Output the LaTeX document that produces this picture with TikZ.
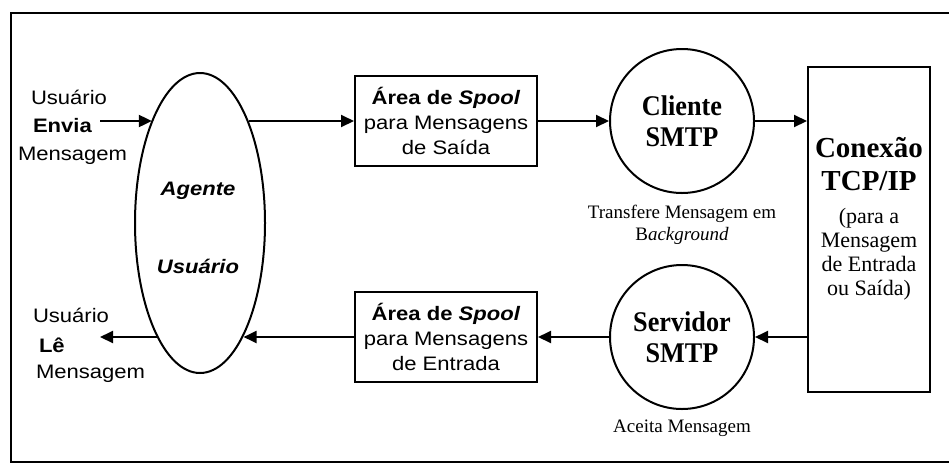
\documentclass[tikz,border=0pt]{standalone}
\usepackage{fontspec}
\setmainfont{Liberation Serif}
\setsansfont{Liberation Sans}[FakeStretch=1.13]
\newfontfamily\circfont{Liberation Serif}[FakeStretch=0.92]
\usetikzlibrary{arrows.meta,shapes.geometric}

\begin{document}
\begin{tikzpicture}[x=1pt,y=-1pt,
  line width=2pt,
  flow/.style={-{Triangle[length=13pt,width=12pt]}},
  sanstxt/.style={font=\sffamily\fontsize{19.5}{25}\selectfont, inner sep=0pt},
  agenttxt/.style={font=\sffamily\bfseries\itshape\fontsize{19.5}{25}\selectfont, inner sep=0pt, anchor=base},
  spoolbox/.style={draw, minimum width=182pt, minimum height=90pt, inner sep=0pt,
    align=center, font=\sffamily\fontsize{19.5}{25}\selectfont},
  smtp/.style={draw, circle, minimum size=144pt, inner sep=0pt, align=center,
    font=\circfont\bfseries\fontsize{28.5}{31}\selectfont},
  note/.style={font=\fontsize{19}{22}\selectfont, align=center, inner sep=0pt},
]
\useasboundingbox (0,0) rectangle (949,464);

% outer frame (its right side lies beyond the page edge)
\draw[line width=2.8pt] (955,13) -- (11,13) -- (11,462) -- (955,462);

% user agent
\node[draw, ellipse, minimum width=130pt, minimum height=300pt, inner sep=0pt] (agent) at (200,223) {};
\node[agenttxt] (agentA) at (198,195) {Agente};
\node[agenttxt] (agentB) at (198,273) {Usuário};

% sending user
\node[sanstxt, anchor=base west] (sendA) at (30,104) {Usuário};
\node[sanstxt, anchor=base west] (sendB) at (32,132) {\bfseries Envia};
\node[sanstxt, anchor=base west] (sendC) at (17,160) {Mensagem};
\coordinate (sendTail) at (100,121);

% reading user
\node[sanstxt, anchor=base west] (readA) at (32,322) {Usuário};
\node[sanstxt, anchor=base west] (readB) at (38,352) {\bfseries Lê};
\node[sanstxt, anchor=base west] (readC) at (35,378) {Mensagem};
\coordinate (readTip) at (100,337);

% spool areas
\node[spoolbox] (outspool) at (446,121) {\textbf{Área de \textit{Spool}}\\para Mensagens\\de Saída};
\node[spoolbox] (inspool) at (446,337) {\textbf{Área de \textit{Spool}}\\para Mensagens\\de Entrada};

% SMTP client and server
\node[smtp] (client) at (682,121) {Cliente\\SMTP};
\node[smtp] (server) at (682,337) {Servidor\\SMTP};
\node[note] (xferNote) at (682,225) {Transfere Mensagem em\\B\textit{ackground}};
\node[note, anchor=base] (acceptNote) at (682,432) {Aceita Mensagem};

% TCP/IP connection
\node[draw, minimum width=122pt, minimum height=325pt, inner sep=0pt] (tcp) at (869,229.5) {};
\node[align=center, inner sep=0pt, font=\bfseries\fontsize{29}{33}\selectfont] (tcpHead) at (869,164) {Conexão\\TCP/IP};
\node[align=center, inner sep=0pt, font=\fontsize{22}{24}\selectfont] (tcpNote) at (869,254) {(para a\\Mensagem\\de Entrada\\ou Saída)};

% outgoing path
\draw[flow] (sendTail) -- (agent.115.4 |- sendTail);
\draw[flow] (agent.64.6 |- outspool.west) -- (outspool.west);
\draw[flow] (outspool.east) -- (client.west);
\draw[flow] (client.east) -- (tcp.west |- client.east);

% incoming path
\draw[flow] (tcp.west |- server.east) -- (server.east);
\draw[flow] (server.west) -- (inspool.east);
\draw[flow] (inspool.west) -- (agent.-69.7 |- inspool.west);
\draw[flow] (agent.-110.3 |- readTip) -- (readTip);
\end{tikzpicture}
\end{document}
